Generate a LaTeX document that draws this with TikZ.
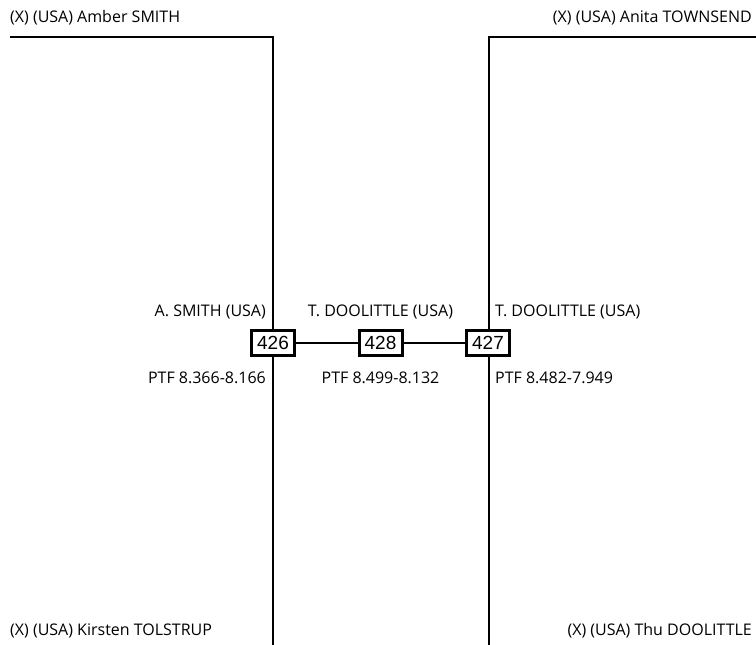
\documentclass[tikz,border=0pt]{standalone}
\usepackage{fontspec}
\setmainfont{Open Sans}
\newfontfamily\boxfont{Liberation Sans}
\usetikzlibrary{positioning}

\tikzset{
    bout/.style   = {draw, line width=3pt, fill=white, inner sep=1pt, minimum width=43pt, minimum height=25pt, font=\boxfont\fontsize{19}{19}\selectfont},
    lbl/.style    = {inner sep=0pt, font=\fontsize{16}{18}\selectfont},
    tree/.style   = {line width=1.8pt}
}

\begin{document}
\begin{tikzpicture}[x=1pt, y=-1pt]
    \useasboundingbox (0,0) rectangle (756,645);

    % entrants
    \node[lbl, anchor=west] at (10 , 18 ) (Amber)   {(X) (USA) Amber SMITH};
    \node[lbl, anchor=east] at (752, 18 ) (Anita)   {(X) (USA) Anita TOWNSEND};
    \node[lbl, anchor=west] at (10 , 631) (Kirsten) {(X) (USA) Kirsten TOLSTRUP};
    \node[lbl, anchor=east] at (752, 631) (Thu)     {(X) (USA) Thu DOOLITTLE};

    \coordinate (AmberStart)  at (10 , 37);
    \coordinate (AmberCorner) at (273, 37);
    \coordinate (AnitaStart)  at (756, 37);
    \coordinate (AnitaCorner) at (489, 37);
    \coordinate (KirstenEnd)  at (273, 645);
    \coordinate (ThuEnd)      at (489, 645);

    % bouts
    \node[bout] at (273  , 343) (B426) {426};
    \node[bout] at (380.5, 343) (B428) {428};
    \node[bout] at (488  , 343) (B427) {427};

    \draw[tree] (AmberStart) -- (AmberCorner) -- (B426.north);
    \draw[tree] (B426.south) -- (KirstenEnd);
    \draw[tree] (AnitaStart) -- (AnitaCorner) -- (AnitaCorner |- B427.north);
    \draw[tree] (AnitaCorner |- B427.south) -- (ThuEnd);
    \draw[tree] (B426) -- (B428);
    \draw[tree] (B428) -- (B427);

    % winners and scores
    \node[lbl, anchor=east] at (266  , 312) (W426) {A. SMITH (USA)};
    \node[lbl]              at (380.5, 312) (W428) {T. DOOLITTLE (USA)};
    \node[lbl, anchor=west] at (495  , 312) (W427) {T. DOOLITTLE (USA)};
    \node[lbl, anchor=east] at (266  , 378) (S426) {PTF 8.366-8.166};
    \node[lbl]              at (380.5, 378) (S428) {PTF 8.499-8.132};
    \node[lbl, anchor=west] at (495  , 378) (S427) {PTF 8.482-7.949};
\end{tikzpicture}
\end{document}
